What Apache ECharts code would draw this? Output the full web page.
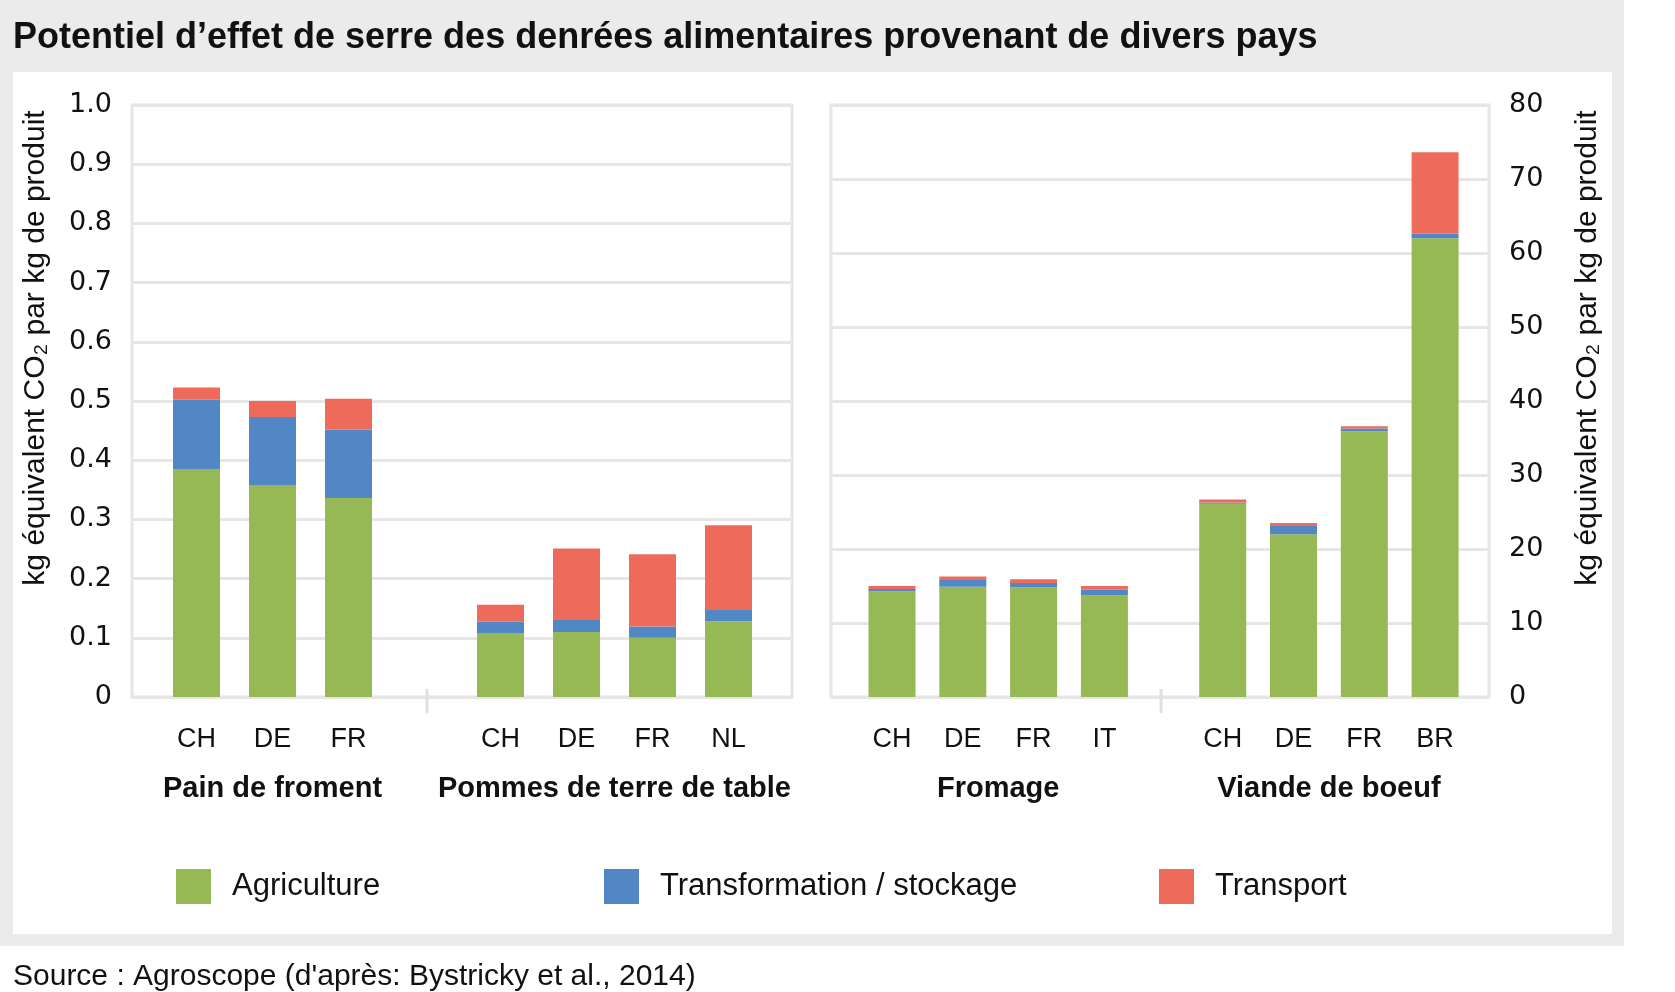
<!DOCTYPE html>
<html><head><meta charset="utf-8">
<script src="https://cdn.jsdelivr.net/npm/echarts@6/dist/echarts.min.js"></script>
<style>html,body{margin:0;padding:0;background:#fff}#c{width:1675px;height:992px}</style>
</head><body><div id="c"></div>
<script>
// ---------- data ----------
const titleText = 'Potentiel d’effet de serre des denrées alimentaires provenant de divers pays';
const sourceText = "Source : Agroscope (d'après: Bystricky et al., 2014)";
const yAxisName = 'kg équivalent CO₂ par kg de produit';
const seriesNames = ['Agriculture', 'Transformation / stockage', 'Transport'];
const groupNames = ['Pain de froment', 'Pommes de terre de table', 'Fromage', 'Viande de boeuf'];

const painCountries = ['CH', 'DE', 'FR'];
const potatoCountries = ['CH', 'DE', 'FR', 'NL'];
const cheeseCountries = ['CH', 'DE', 'FR', 'IT'];
const beefCountries = ['CH', 'DE', 'FR', 'BR'];

const painAgri = [0.385, 0.358, 0.336];
const painTrans = [0.117, 0.115, 0.116];
const painTransport = [0.021, 0.027, 0.052];

const potatoAgri = [0.108, 0.110, 0.100, 0.128];
const potatoTrans = [0.019, 0.020, 0.019, 0.019];
const potatoTransport = [0.029, 0.121, 0.122, 0.143];

const cheeseAgri = [14.3, 14.9, 14.8, 13.7];
const cheeseTrans = [0.3, 0.9, 0.6, 0.8];
const cheeseTransport = [0.4, 0.5, 0.5, 0.5];

const beefAgri = [26.1, 22.0, 35.9, 62.0];
const beefTrans = [0.2, 1.1, 0.4, 0.6];
const beefTransport = [0.4, 0.4, 0.3, 11.0];

const leftTicks = ['0', '0.1', '0.2', '0.3', '0.4', '0.5', '0.6', '0.7', '0.8', '0.9', '1.0'];
const rightTicks = ['0', '10', '20', '30', '40', '50', '60', '70', '80'];

// ---------- style / layout ----------
const COLORS = ['#97B955', '#5187C4', '#EE6B5B'];
const F = '"Liberation Sans", Arial, sans-serif';
const FN = '"Liberation Sans Narrow", "Liberation Sans", sans-serif';
const FD = '"DejaVu Sans", sans-serif';
const GRIDC = '#e6e6e6';
const TXT = '#111111';
const TOP = 105, H = 592;

const groups = [
  { cats: painCountries, data: [painAgri, painTrans, painTransport], left: 158.5, width: 228, max: 1 },
  { cats: potatoCountries, data: [potatoAgri, potatoTrans, potatoTransport], left: 462.5, width: 304, max: 1 },
  { cats: cheeseCountries, data: [cheeseAgri, cheeseTrans, cheeseTransport], left: 856.6, width: 283.2, max: 80 },
  { cats: beefCountries, data: [beefAgri, beefTrans, beefTransport], left: 1187.3, width: 283.2, max: 80 }
];

const grid = [
  { left: 132, top: TOP, width: 660, height: H, show: true, borderColor: GRIDC, borderWidth: 3, backgroundColor: 'transparent' },
  { left: 831, top: TOP, width: 658, height: H, show: true, borderColor: GRIDC, borderWidth: 3, backgroundColor: 'transparent' }
];
const xAxis = [
  { type: 'category', gridIndex: 0, data: [''], show: false },
  { type: 'category', gridIndex: 1, data: [''], show: false }
];
const nameStyle = { fontFamily: F, fontSize: 30, color: TXT, padding: [0, 0, 0, 106] };
const yAxis = [
  { type: 'value', gridIndex: 0, min: 0, max: 1, interval: 0.1, position: 'left',
    axisLine: { show: false }, axisTick: { show: false },
    axisLabel: { margin: 20, fontFamily: FD, fontSize: 27, color: TXT,
      formatter: v => leftTicks[Math.round(v * 10)] },
    splitLine: { show: true, lineStyle: { color: GRIDC, width: 3 } },
    name: yAxisName, nameLocation: 'middle', nameRotate: 90, nameGap: 81,
    nameTextStyle: nameStyle },
  { type: 'value', gridIndex: 1, min: 0, max: 80, interval: 10, position: 'right',
    axisLine: { show: false }, axisTick: { show: false },
    axisLabel: { margin: 20, fontFamily: FD, fontSize: 27, color: TXT,
      formatter: v => rightTicks[Math.round(v / 10)] },
    splitLine: { show: true, lineStyle: { color: GRIDC, width: 3 } },
    name: yAxisName, nameLocation: 'middle', nameRotate: 90, nameGap: 84,
    nameTextStyle: nameStyle }
];
const series = [];
groups.forEach((g, i) => {
  const gi = grid.length;
  grid.push({ left: g.left, top: TOP, width: g.width, height: H });
  xAxis.push({ type: 'category', gridIndex: gi, data: g.cats,
    axisLine: { show: false }, axisTick: { show: false },
    axisLabel: { margin: 29, fontFamily: FN, fontSize: 27, color: TXT },
    name: groupNames[i], nameLocation: 'middle', nameGap: 77,
    nameTextStyle: { fontFamily: F, fontSize: 29, fontWeight: 'bold', color: TXT } });
  yAxis.push({ type: 'value', gridIndex: gi, min: 0, max: g.max, show: false, splitLine: { show: false } });
  g.data.forEach((arr, k) => {
    series.push({ type: 'bar', name: seriesNames[k], xAxisIndex: gi, yAxisIndex: gi,
      stack: 'g' + i, data: arr, barWidth: 47, itemStyle: { color: COLORS[k] },
      emphasis: { disabled: true } });
  });
});

const legendLefts = [171, 599, 1154];
const legend = seriesNames.map((n, k) => ({
  data: [n], left: legendLefts[k], top: 864, icon: 'rect', itemWidth: 35, itemHeight: 35,
  textStyle: { fontFamily: F, fontSize: 31, color: TXT, padding: [0, 0, 0, 16] },
  selectedMode: false
}));

const chart = echarts.init(document.getElementById('c'), null, { renderer: 'canvas', width: 1675, height: 992 });
chart.setOption({
  animation: false,
  color: COLORS,
  title: [
    { text: titleText, left: 8, top: 13, textStyle: { fontFamily: F, fontSize: 36, fontWeight: 'bold', color: TXT, lineHeight: 40 } },
    { text: sourceText, left: 8, top: 955, textStyle: { fontFamily: F, fontSize: 30, fontWeight: 'normal', color: TXT, lineHeight: 34 } }
  ],
  graphic: [
    { type: 'rect', z: -10, shape: { x: 0, y: 0, width: 1624, height: 946 }, style: { fill: '#ebebeb' }, silent: true },
    { type: 'rect', z: -9, shape: { x: 13, y: 72, width: 1599, height: 862 }, style: { fill: '#ffffff' }, silent: true },
    { type: 'line', z: 5, shape: { x1: 427, y1: 689, x2: 427, y2: 713 }, style: { stroke: '#e0e0e0', lineWidth: 3 }, silent: true },
    { type: 'line', z: 5, shape: { x1: 1161, y1: 689, x2: 1161, y2: 713 }, style: { stroke: '#e0e0e0', lineWidth: 3 }, silent: true }
  ],
  legend,
  grid, xAxis, yAxis, series
});
</script></body></html>
